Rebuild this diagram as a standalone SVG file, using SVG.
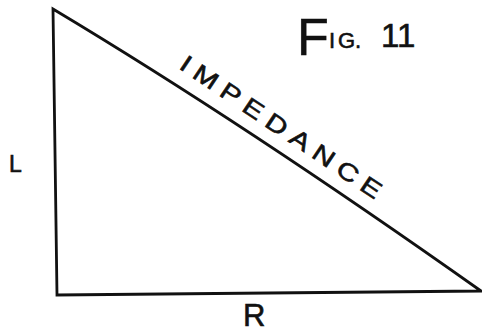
<svg xmlns="http://www.w3.org/2000/svg" width="482" height="333" viewBox="0 0 482 333">
<style>
.edge{fill:none;stroke:#111;stroke-width:2.8;stroke-linejoin:miter}
.lbl{font-family:"Liberation Sans",Arial,sans-serif;fill:#111;stroke:#111;stroke-width:0.6}
</style>
<rect width="482" height="333" fill="#fff"/>
<g id="connectors">
<path class="edge" d="M53,9 Q245,124 481,291 L57,295 Z"/>
</g>
<g id="impedance">
<text class="lbl" font-size="24" transform="translate(276.5,134) rotate(33.8) scale(1.25,1)" x="-94.8" y="0" textLength="189.6" lengthAdjust="spacing">IMPEDANCE</text>
</g>
<g id="label-L">
<text class="lbl" font-size="23" x="9" y="172">L</text>
</g>
<g id="label-R">
<text class="lbl" font-size="31" x="243" y="326">R</text>
</g>
<g id="title">
<text class="lbl"><tspan font-size="52" x="297" y="55">F</tspan><tspan font-size="22" x="329" y="48">I</tspan><tspan font-size="22" x="338" y="48">G.</tspan><tspan font-size="33" x="381" y="47">11</tspan></text>
</g>
</svg>
